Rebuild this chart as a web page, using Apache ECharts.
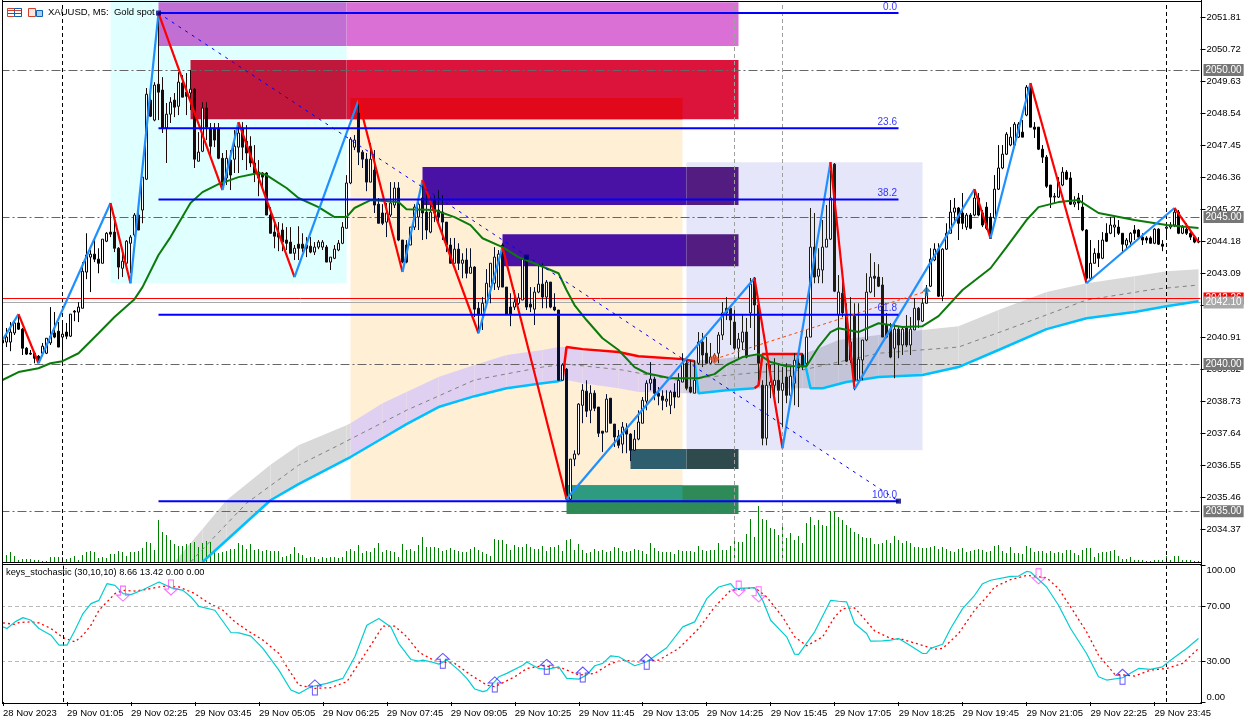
<!DOCTYPE html>
<html>
<head>
<meta charset="utf-8">
<title>XAUUSD M5</title>
<script src="https://cdn.jsdelivr.net/npm/echarts@6/dist/echarts.min.js"></script>
<style>
  html, body { margin: 0; padding: 0; background: #fff; }
  #main { width: 1252px; height: 724px; }
</style>
</head>
<body>
<div id="main"></div>
<script>
/* -------------------------------------------------------------------------- */
/*                                   Data                                     */
/* -------------------------------------------------------------------------- */

const timeLabels = ['28 Nov 2023', '29 Nov 01:05', '29 Nov 02:25', '29 Nov 03:45', '29 Nov 05:05', '29 Nov 06:25',
  '29 Nov 07:45', '29 Nov 09:05', '29 Nov 10:25', '29 Nov 11:45', '29 Nov 13:05', '29 Nov 14:25', '29 Nov 15:45',
  '29 Nov 17:05', '29 Nov 18:25', '29 Nov 19:45', '29 Nov 21:05', '29 Nov 22:25', '29 Nov 23:45'];

const priceTicks = [2051.81, 2050.72, 2049.63, 2048.54, 2047.45, 2046.36, 2045.27, 2044.18, 2043.09, 2042.00,
  2040.91, 2039.82, 2038.73, 2037.64, 2036.55, 2035.46, 2034.37];
const stochTicks = [0, 30, 70, 100];

// open, close, low, high
const candles = [
  [2040.82,2040.72,2040.65,2040.92],[2040.75,2040.92,2040.58,2041.23],[2040.75,2041.09,2040.44,2041.43],[2041.06,2041.40,2040.99,2041.43],
  [2041.40,2041.19,2041.16,2041.67],[2041.19,2040.54,2040.31,2041.23],[2040.54,2040.34,2040.31,2040.58],[2040.37,2040.34,2040.31,2040.48],
  [2040.37,2040.20,2040.03,2040.37],[2040.27,2040.14,2040.03,2040.31],[2040.37,2040.61,2040.34,2040.72],[2040.37,2040.88,2040.34,2040.88],
  [2040.72,2040.95,2040.65,2041.94],[2041.06,2040.92,2040.88,2041.77],[2041.12,2040.58,2040.58,2041.43],[2040.92,2041.02,2040.03,2041.40],
  [2041.09,2040.95,2040.85,2041.40],[2040.95,2041.70,2040.92,2041.70],[2041.80,2041.77,2041.46,2041.84],[2041.77,2041.94,2041.43,2042.11],
  [2041.90,2043.16,2041.90,2043.47],[2043.13,2043.71,2042.89,2044.45],[2043.64,2043.74,2042.45,2043.88],[2043.74,2043.57,2043.47,2044.25],
  [2043.57,2043.43,2043.09,2043.94],[2043.43,2044.25,2043.43,2044.25],[2044.18,2044.45,2044.15,2044.49],[2044.49,2044.42,2044.32,2045.48],
  [2044.49,2043.94,2043.81,2044.97],[2043.94,2043.30,2042.89,2043.98],[2043.26,2043.50,2042.96,2043.77],[2043.43,2044.18,2043.37,2044.22],
  [2044.11,2044.32,2043.09,2044.39],[2044.39,2045.07,2044.32,2045.14],[2045.07,2044.56,2044.56,2045.31],[2045.24,2046.36,2044.79,2046.36],
  [2046.29,2049.18,2046.26,2049.39],[2048.98,2048.43,2048.40,2049.22],[2048.30,2049.49,2048.26,2049.59],[2049.52,2049.25,2048.30,2051.94],
  [2049.32,2048.03,2047.86,2049.76],[2048.03,2048.50,2046.84,2048.88],[2048.50,2048.91,2048.20,2049.08],[2048.98,2048.74,2048.40,2049.22],
  [2048.77,2049.59,2048.47,2049.93],[2049.56,2049.08,2049.08,2049.83],[2049.25,2049.11,2048.47,2049.90],[2049.22,2049.35,2048.64,2050.00],
  [2049.35,2046.97,2046.67,2049.39],[2046.90,2047.21,2046.90,2047.89],[2047.24,2048.71,2047.21,2048.91],[2048.71,2048.06,2047.62,2048.91],
  [2048.03,2047.41,2047.00,2048.20],[2048.03,2047.62,2047.38,2048.20],[2048.03,2047.00,2046.97,2048.20],[2047.00,2046.09,2045.92,2047.18],
  [2046.33,2047.00,2046.09,2047.28],[2046.94,2046.43,2045.92,2047.28],[2046.97,2047.41,2046.50,2047.96],[2047.38,2047.86,2046.50,2048.20],
  [2048.03,2047.38,2046.94,2048.23],[2047.58,2047.18,2046.60,2048.13],[2047.41,2046.84,2046.70,2047.75],[2046.84,2046.50,2046.19,2047.45],
  [2046.53,2046.33,2045.71,2046.94],[2046.50,2046.36,2045.92,2046.53],[2046.50,2045.07,2045.07,2046.53],[2045.07,2044.45,2044.45,2045.34],
  [2044.49,2044.35,2043.94,2044.83],[2044.45,2044.32,2043.84,2044.83],[2044.56,2044.15,2043.84,2044.79],[2044.22,2044.11,2043.88,2044.66],
  [2044.15,2043.77,2043.77,2044.66],[2043.77,2043.94,2043.54,2044.05],[2044.08,2043.94,2043.54,2044.69],[2044.08,2043.94,2043.81,2044.45],
  [2044.05,2043.94,2043.64,2044.32],[2044.01,2043.81,2043.77,2044.32],[2043.81,2043.98,2043.71,2044.15],[2043.98,2044.15,2043.91,2044.22],
  [2043.98,2044.15,2043.88,2044.22],[2043.98,2043.47,2043.47,2044.05],[2043.47,2043.64,2043.20,2043.64],[2043.60,2043.91,2043.57,2044.05],
  [2043.88,2044.11,2043.84,2044.22],[2044.11,2044.66,2044.08,2044.83],[2044.62,2046.16,2044.62,2046.43],[2046.16,2047.65,2046.12,2047.72],
  [2047.38,2047.62,2047.28,2047.79],[2048.54,2047.21,2046.77,2048.98],[2047.21,2046.97,2046.67,2047.28],[2046.97,2046.19,2045.88,2047.18],
  [2046.19,2046.97,2046.19,2047.52],[2046.60,2045.41,2045.14,2047.28],[2045.44,2044.79,2044.79,2045.65],[2045.14,2044.79,2044.73,2045.44],
  [2044.83,2045.14,2044.32,2045.48],[2045.07,2045.48,2045.00,2046.19],[2045.41,2045.99,2045.31,2046.19],[2045.99,2044.22,2044.18,2046.19],
  [2044.22,2043.47,2043.43,2044.22],[2044.05,2043.47,2043.43,2044.22],[2044.05,2044.66,2044.05,2044.66],[2044.66,2045.34,2044.56,2045.44],
  [2045.00,2045.44,2044.56,2045.58],[2045.65,2045.14,2044.22,2046.26],[2045.17,2044.56,2044.25,2045.82],[2044.49,2045.17,2044.45,2045.68],
  [2045.58,2045.14,2044.83,2045.75],[2045.24,2045.00,2044.79,2045.92],[2045.17,2044.83,2044.22,2045.75],[2044.83,2044.05,2043.81,2044.83],
  [2044.05,2043.43,2043.43,2044.29],[2043.43,2043.91,2043.43,2044.29],[2043.91,2043.43,2043.20,2044.11],[2043.43,2043.54,2042.92,2043.77],
  [2043.54,2043.09,2042.92,2043.94],[2043.09,2043.30,2043.09,2043.94],[2043.30,2041.87,2041.60,2043.33],[2041.90,2041.67,2041.05,2042.11],
  [2041.67,2042.07,2041.16,2042.28],[2042.07,2042.75,2042.07,2043.23],[2042.62,2043.43,2042.07,2043.43],[2042.75,2043.64,2042.52,2043.98],
  [2042.62,2043.74,2042.52,2043.88],[2044.05,2042.62,2042.62,2044.11],[2042.62,2041.70,2041.67,2042.62],[2041.94,2041.70,2041.29,2042.41],
  [2041.94,2042.11,2041.84,2042.52],[2042.07,2042.25,2042.01,2042.41],[2042.18,2043.57,2042.18,2043.60],[2043.64,2041.94,2041.84,2043.71],
  [2042.04,2041.94,2041.77,2042.62],[2041.87,2042.45,2041.33,2042.62],[2042.45,2042.72,2042.41,2043.37],[2042.72,2042.28,2041.90,2043.43],
  [2042.28,2042.79,2041.90,2042.86],[2042.79,2041.94,2041.90,2042.79],[2041.94,2041.84,2041.80,2042.41],[2041.84,2039.45,2039.45,2041.84],
  [2039.45,2039.97,2039.45,2040.03],[2039.83,2035.41,2035.41,2039.87],[2035.41,2036.77,2035.37,2036.77],[2036.77,2036.94,2036.53,2037.07],
  [2036.94,2038.64,2036.90,2038.67],[2038.60,2039.11,2037.99,2039.32],[2039.08,2038.40,2038.20,2039.45],[2038.43,2039.01,2037.99,2039.28],
  [2039.01,2038.50,2038.40,2039.11],[2038.54,2037.65,2037.52,2038.54],[2037.72,2037.65,2037.01,2037.72],[2037.69,2038.81,2037.69,2038.98],
  [2038.84,2037.99,2037.99,2038.84],[2037.96,2037.52,2037.18,2037.96],[2037.55,2037.24,2037.14,2037.76],[2037.28,2037.86,2036.97,2038.03],
  [2037.82,2037.62,2036.97,2037.99],[2037.62,2037.07,2036.70,2037.65],[2037.07,2037.45,2037.04,2037.76],[2037.45,2038.03,2037.41,2038.43],
  [2037.99,2038.77,2037.99,2038.88],[2038.74,2039.35,2038.43,2039.45],[2039.35,2039.49,2039.11,2040.07],[2039.49,2039.01,2038.77,2039.56],
  [2039.01,2038.91,2038.60,2039.22],[2038.91,2038.77,2038.43,2039.11],[2038.74,2038.81,2038.54,2039.11],[2038.60,2039.05,2038.30,2039.11],
  [2039.05,2038.88,2038.50,2039.35],[2038.88,2039.45,2038.88,2039.69],[2039.39,2040.03,2039.39,2040.37],[2040.03,2039.18,2039.11,2040.13],
  [2039.22,2039.05,2039.01,2040.13],[2039.01,2039.45,2039.01,2040.13],[2040.03,2040.75,2039.97,2041.09],[2040.75,2040.31,2039.90,2041.06],
  [2040.37,2040.03,2040.03,2040.92],[2040.03,2040.24,2040.00,2040.72],[2040.20,2040.31,2040.07,2040.37],[2040.37,2040.99,2040.03,2041.09],
  [2040.99,2041.74,2040.82,2042.11],[2041.90,2041.74,2041.50,2042.28],[2041.90,2041.50,2040.65,2042.01],[2041.43,2040.54,2040.48,2041.84],
  [2040.54,2040.85,2040.20,2041.06],[2040.75,2041.09,2040.48,2041.67],[2041.09,2040.24,2040.20,2041.57],[2041.74,2042.72,2041.23,2042.93],
  [2042.93,2042.01,2040.48,2042.96],[2042.01,2040.03,2039.45,2042.01],[2039.28,2037.48,2037.24,2039.45],[2037.48,2039.28,2037.24,2040.03],
  [2039.28,2039.39,2038.84,2039.97],[2039.28,2039.45,2038.94,2040.20],[2039.45,2039.11,2038.67,2040.03],[2039.11,2039.35,2037.86,2039.90],
  [2039.56,2038.94,2038.67,2040.03],[2038.94,2039.59,2038.67,2039.90],[2039.35,2040.13,2038.60,2040.37],[2040.03,2039.87,2038.54,2040.20],
  [2040.31,2039.90,2039.80,2040.37],[2040.03,2040.92,2039.97,2041.16],[2040.92,2043.98,2040.92,2045.31],[2043.98,2042.96,2042.75,2045.14],
  [2042.99,2043.23,2042.75,2043.94],[2043.20,2043.98,2042.75,2044.90],[2043.98,2044.25,2043.98,2045.41],[2044.25,2045.65,2044.22,2046.60],
  [2046.80,2042.48,2042.45,2046.84],[2041.67,2042.45,2039.97,2043.03],[2042.41,2041.74,2041.60,2042.96],[2041.67,2040.10,2040.07,2042.07],
  [2040.14,2040.75,2040.03,2042.28],[2041.63,2039.45,2039.11,2042.07],[2039.45,2040.17,2039.42,2042.07],[2040.14,2040.82,2039.45,2040.82],
  [2040.82,2042.45,2040.78,2043.09],[2042.45,2042.96,2042.41,2043.77],[2042.99,2042.92,2042.28,2043.47],[2042.96,2042.65,2042.62,2043.40],
  [2042.69,2040.92,2040.92,2042.96],[2041.33,2040.92,2040.88,2041.74],[2041.19,2040.24,2040.20,2041.40],[2040.54,2041.19,2039.52,2041.36],
  [2041.19,2040.65,2040.20,2041.26],[2040.65,2041.19,2040.31,2041.23],[2041.23,2040.65,2040.58,2041.67],[2040.65,2041.19,2040.31,2041.60],
  [2041.16,2041.90,2041.16,2042.25],[2041.90,2041.50,2041.23,2041.94],[2041.46,2042.07,2041.43,2042.25],[2042.07,2042.41,2042.07,2042.69],
  [2042.65,2043.57,2042.62,2043.94],[2043.54,2043.91,2043.50,2044.11],[2043.91,2042.31,2042.28,2044.11],[2042.31,2043.91,2042.14,2043.94],
  [2043.91,2044.45,2043.88,2044.79],[2044.45,2045.17,2044.45,2045.58],[2045.17,2045.31,2044.83,2045.65],[2045.31,2044.79,2044.22,2045.34],
  [2045.14,2044.79,2044.59,2045.82],[2044.66,2045.07,2044.56,2045.14],[2045.07,2044.62,2044.59,2045.14],[2045.07,2045.65,2045.03,2045.95],
  [2045.65,2045.07,2045.03,2045.82],[2045.14,2044.73,2044.66,2045.24],[2045.34,2044.62,2044.56,2045.51],[2045.00,2044.28,2044.28,2045.14],
  [2044.97,2045.95,2044.93,2046.43],[2045.95,2046.67,2045.92,2047.45],[2046.67,2047.14,2046.63,2047.45],[2047.14,2047.82,2047.11,2047.89],
  [2047.45,2047.72,2047.41,2048.06],[2047.45,2048.16,2047.41,2048.23],[2047.72,2048.16,2047.69,2048.23],[2047.89,2047.72,2047.72,2048.30],
  [2048.47,2049.42,2048.43,2049.49],[2049.42,2048.06,2048.06,2049.49],[2048.06,2047.99,2047.69,2048.23],[2048.06,2047.31,2047.28,2048.06],
  [2047.31,2047.04,2046.84,2047.45],[2047.04,2046.05,2045.99,2047.11],[2046.09,2045.68,2045.31,2046.09],[2045.68,2045.71,2045.48,2045.82],
  [2045.68,2046.19,2045.65,2046.36],[2046.09,2046.53,2046.05,2046.70],[2046.53,2046.29,2046.26,2046.60],[2046.33,2045.44,2045.41,2046.53],
  [2045.44,2045.51,2045.34,2045.71],[2045.65,2045.48,2045.24,2045.82],[2045.34,2044.56,2044.52,2045.75],[2044.56,2042.92,2042.86,2044.59],
  [2042.92,2043.43,2042.89,2044.22],[2043.43,2043.77,2043.43,2043.94],[2043.77,2043.60,2043.30,2044.22],[2043.60,2044.22,2043.57,2044.49],
  [2044.45,2044.18,2044.15,2044.79],[2044.45,2044.73,2044.42,2045.00],[2044.66,2044.73,2044.32,2045.00],[2044.66,2044.45,2044.39,2044.90],
  [2044.45,2044.08,2043.81,2044.45],[2044.05,2044.22,2043.94,2044.29],[2044.15,2044.45,2043.98,2044.49],[2044.56,2044.45,2044.22,2044.73],
  [2044.56,2044.32,2044.29,2044.59],[2044.32,2044.22,2044.05,2044.45],[2044.29,2044.22,2044.11,2044.35],[2044.29,2044.11,2044.11,2044.35],
  [2044.11,2044.59,2044.08,2044.62],[2044.59,2044.08,2044.05,2044.62],[2044.08,2044.01,2043.84,2044.22],[2044.62,2044.66,2044.28,2044.79],
  [2044.66,2044.73,2044.59,2044.83],[2044.73,2045.17,2044.66,2045.31],[2045.17,2044.45,2044.42,2045.24],[2044.45,2044.66,2044.42,2044.73],
  [2044.59,2044.45,2044.39,2044.79],[2044.45,2044.32,2044.22,2044.56],[2044.32,2044.15,2044.11,2044.39],[2044.18,2044.15,2044.11,2044.32]
];

const volumes = [
  10,70,100,60,20,30,30,30,20,20,10,10,50,50,50,50,30,40,60,20,70,100,110,100,40,50,40,80,80,110,100,60,100,100,110,140,200,190,120,420,
  300,270,220,180,160,160,180,190,200,150,190,210,200,120,90,100,110,130,130,190,170,130,180,120,130,110,120,110,110,110,50,60,80,150,90,70,40,50,50,30,
  50,40,50,50,40,50,110,130,110,170,90,110,100,140,190,100,120,110,100,50,180,120,130,110,170,
  250,150,150,150,140,110,120,140,120,110,100,100,130,150,120,100,80,60,230,220,220,180,120,170,150,150,180,150,130,130,160,110,150,150,170,
  110,220,230,120,180,120,90,100,130,110,120,100,110,150,140,110,100,110,130,120,110,80,190,140,110,100,100,100,80,120,110,110,110,100,160,
  120,110,120,120,190,120,120,160,220,200,200,280,430,250,560,430,420,340,330,270,360,240,290,220,260,190,390,450,370,420,370,360,510,510,450,
  420,370,340,300,280,250,240,240,180,180,190,220,190,260,220,190,210,190,150,150,140,140,150,160,130,150,130,110,100,130,
  140,100,110,120,130,120,100,110,160,170,110,90,150,90,90,80,160,140,100,110,110,90,110,90,100,90,120,120,90,70,
  120,140,140,50,90,100,100,110,120,60,30,30,50,20,20,20,10,10,20,20,20,60,20,60,60,20,20,20,10,10
];

// [bar index, price]
const movingAverage = [[0,2039.46],[4,2039.73],[9,2039.86],[12,2040.03],[15,2040.10],[19,2040.37],[24,2041.05],[28,2041.60],[33,2042.21],[35,2042.62],
  [39,2043.71],[42,2044.32],[47,2045.48],[50,2045.85],[54,2046.12],[59,2046.36],[64,2046.50],[66,2046.43],[71,2045.99],[74,2045.65],[79,2045.34],
  [83,2045.00],[86,2045.00],[88,2045.31],[91,2045.51],[92,2045.58],[99,2045.51],[101,2045.27],[108,2045.24],[113,2045.00],[117,2044.73],[120,2044.28],
  [125,2043.98],[129,2043.64],[134,2043.37],[139,2043.09],[141,2042.52],[143,2042.01],[146,2041.50],[150,2040.88],[154,2040.48],[158,2039.90],
  [161,2039.69],[167,2039.52],[174,2039.52],[178,2039.66],[181,2039.97],[185,2040.24],[189,2040.34],[192,2040.07],[196,2039.93],[201,2039.93],
  [204,2040.58],[207,2041.09],[209,2041.22],[214,2041.09],[219,2041.39],[225,2041.26],[230,2041.29],[234,2041.63],[240,2042.52],[247,2043.26],
  [251,2043.98],[256,2044.90],[259,2045.34],[264,2045.51],[269,2045.58],[274,2045.14],[283,2044.90],[291,2044.73],[299,2044.63]];

const zigzag = [[0,2040.82],[4,2041.70],[9,2040.03],[27,2045.48],[32,2042.75],[39,2051.94],[55,2045.92],[59,2048.23],[73,2042.96],[89,2048.98],
  [100,2043.13],[105,2046.26],[119,2041.05],[125,2043.98],[141,2035.41],[188,2042.92],[195,2037.14],[207,2046.87],[213,2039.15],[243,2045.95],
  [247,2044.28],[257,2049.56],[271,2042.75],[293,2045.31],[299,2044.15]];

const cloudIndex = [43,50,56,67,74,86,87,95,101,109,118,126,135,139,141,145,154,159,170,171,174,181,189,200,203,209,219,230,239,249,261,271,283,291,299];
const cloudUpper = [2033.27,2034.39,2035.37,2036.58,2037.24,2037.92,2037.99,2038.67,2039.05,2039.56,2039.97,2040.31,2040.48,2040.58,2040.58,2040.51,2040.41,2040.27,2040.17,2040.17,
  2040.13,2040.20,2040.34,2040.34,2040.48,2040.82,2040.99,2041.16,2041.29,2041.84,2042.45,2042.75,2042.99,2043.16,2043.23];
const cloudLower = [2033.27,2033.27,2034.01,2035.37,2035.92,2036.77,2036.84,2037.48,2037.96,2038.54,2038.91,2039.18,2039.35,2039.42,2039.46,2039.35,2039.18,2039.05,2039.01,2039.01,
  2039.01,2039.11,2039.18,2039.18,2039.18,2039.32,2039.56,2039.63,2039.90,2040.48,2041.19,2041.56,2041.77,2041.97,2042.14];
const cloudMiddle = [[47,2033.27],[61,2035.27],[74,2036.56],[84,2037.24],[101,2038.43],[118,2039.46],[135,2039.90],[141,2040.00],[155,2039.80],[168,2039.46],
  [190,2039.73],[200,2039.80],[219,2040.37],[239,2040.58],[252,2041.22],[271,2042.18],[288,2042.55],[299,2042.69]];

const supportA = [[50,2033.27],[56,2034.01],[67,2035.37],[74,2035.92],[86,2036.77],[87,2036.84],[95,2037.48],[101,2037.96],[109,2038.54],[118,2038.91],[126,2039.18],[135,2039.35],[139,2039.42],[140,2039.46]];
const resistanceA = [[140,2039.46],[141,2040.58],[145,2040.51],[154,2040.41],[159,2040.27],[170,2040.17],[173,2040.10]];
const supportB = [[173,2040.10],[174,2039.01],[181,2039.11],[188,2039.18]];
const resistanceB = [[188,2039.18],[189,2039.28],[190,2040.34],[200,2040.34]];
const supportC = [[200,2040.34],[201,2039.80],[202,2039.18],[205,2039.18],[211,2039.39],[219,2039.56],[230,2039.63],[239,2039.90],[249,2040.48],[261,2041.19],[271,2041.56],[283,2041.77],[291,2041.97],[299,2042.14]];

const stochMain = [[0,55.1],[1,53.9],[3,58.8],[5,61.9],[7,60],[9,53.9],[12,49],[14,41.7],[16,41.7],[18,52.7],[20,64.9],[22,72.2],[24,74.6],[26,86.8],[28,85.6],[30,79.5],[32,78.8],[35,82.4],[39,88],[42,83.9],[45,81.9],[47,77.1],[49,70.2],[53,67.3],[57,51],[59,50.7],[62,48.3],[65,39.3],[69,23.4],[72,8.8],[74,6.3],[77,11.2],[81,13.7],[85,17.3],[88,33.2],[91,56.3],[94,61.2],[97,55.1],[99,42.9],[102,31.2],[104,30],
  [105,30.7],[107,29.5],[109,27.8],[111,30.7],[114,23.4],[116,17.3],[118,9.5],[120,7.6],[121,8.3],[124,18.5],[126,21],[130,27],[131,29.3],[134,24.6],[136,23.9],[139,25.8],[141,17.3],[144,16.8],[146,19.8],[148,26.6],[150,28.3],[152,33.9],[154,33.2],[158,26.6],[161,29.5],[166,39.8],[170,55.1],[173,58.8],[176,75.8],[179,84.4],[182,86.8],[183,83.2],[188,83.9],[190,74.6],[192,60],[196,47.8],[198,35.1],[199,34.9],[203,51.5],[207,74.6],[209,73.9],
  [211,73.4],[213,57.6],[216,50.2],[217,44.6],[220,44.9],[222,45.4],[224,46.6],[227,41.2],[230,35.6],[231,35.6],[232,39.3],[235,42.4],[237,53.9],[240,68.5],[243,78.3],[245,86.8],[247,89.3],[252,92.2],[254,92.4],[256,95.8],[257,95.4],[261,84.4],[264,71],[267,53.9],[271,35.6],[274,18.5],[276,16.1],[280,17.8],[284,24.6],[287,23.9],[290,25.8],[292,30.7],[296,39.3],[299,46.6]];

const stochSignal = [[0,58],[3,57],[4,58.3],[7,58.8],[9,58],[12,53.9],[15,47.3],[18,44.1],[20,49],[22,56.3],[24,67.3],[28,79.5],[30,81.9],[33,81.4],[36,82.7],[40,84.9],[44,84.4],[48,79.5],[51,73.4],[55,67.3],[58,58.8],[61,52.7],[65,45.4],[69,35.6],[71,25.8],[74,12.4],[78,10],[82,10.5],[86,14.9],[89,28.3],[92,41.7],[95,55.6],[98,55.6],[101,47.8],[104,36.8],
  [105,34.9],[108,30.2],[113,28.3],[117,19.8],[121,12.4],[123,11.2],[128,18.5],[131,24.6],[135,26.6],[140,24.6],[144,19.8],[148,21],[152,28.3],[155,30.7],[159,29.5],[164,30.7],[169,39.3],[174,53.9],[178,69.8],[182,82],[188,83.9],[191,77.1],[195,62.4],[198,47.8],[201,41.2],[205,47.8],
  [208,62.4],[210,68.5],[213,69],[215,62.4],[218,52.2],[222,46.6],[225,45.9],[229,42.4],[233,38.8],[235,39.3],[239,50.2],[243,67.3],[246,77],[248,84.4],[252,89.8],[256,92.9],[261,91.2],[264,83.2],[267,69.8],[271,51.5],[274,34.4],[278,20.5],[283,19],[287,23.4],[291,24.6],[295,28.3],[299,39.3]];

const sellSignals = [[30,79.5],[42,84],[184,83.2],[189,79],[259,92.2]];
const buySignals = [[78,10.7],[110,30.2],[123,12.9],[136,25.8],[145,20.2],[161,29.5],[280,18.5]];

// fibonacci retracement
const fibFrom = 39, fibTo = 224;
const fibNames = ['0.0', '23.6', '38.2', '61.8', '100.0'];
const fibPrices = [2051.94, 2048.02, 2045.60, 2041.68, 2035.34];
const fibHandles = [[39,2051.94],[131,2043.64],[224,2035.34]];
const entryLine = [[178,2040.17],[231,2042.48]];

const roundLevels = [2050, 2045, 2040, 2035];
const bidPrice = 2042.23, lastPrice = 2042.10;

// price zones: from bar, to bar, top, bottom, colour. Later rows paint over earlier ones
const zoneFrom   = [27, 87, 171, 39, 86, 47, 86, 87, 105, 171, 125, 171, 157, 171, 141, 141];
const zoneTo     = [86, 170, 230, 86, 184, 86, 184, 170, 171, 184, 171, 184, 171, 184, 184, 170];
const zoneTop    = [2052.38, 2049.08, 2046.87, 2052.31, 2052.31, 2050.34, 2050.34, 2049.05, 2046.70, 2046.70, 2044.42, 2044.42, 2037.11, 2037.11, 2035.88, 2035.88];
const zoneBottom = [2042.75, 2035.37, 2037.07, 2050.82, 2050.82, 2048.33, 2048.33, 2048.33, 2045.41, 2045.41, 2043.33, 2043.33, 2036.43, 2036.43, 2034.90, 2035.37];
const zoneColor  = ['#e0ffff', '#ffefd5', '#e6e6fa', '#c16fd3', '#da70d6', '#c0183c', '#dc143c', '#e0081a', '#4a12a4', '#521c80', '#4a12a4', '#521c80', '#2e5e6e', '#2f4a4c', '#2e8b57', '#2e9b80'];

/* -------------------------------------------------------------------------- */
/*                                   Chart                                    */
/* -------------------------------------------------------------------------- */

const FONT = 'Liberation Sans';
const categories = candles.map((c, i) => (i % 16 === 0 ? timeLabels[i / 16] : String(i)));

const darkColor = i => {
  if (i >= 27 && i <= 86) return '#200808';
  if (i >= 87 && i <= 170) return '#04102e';
  if (i >= 171 && i <= 230) return '#1c1c10';
  return '#000000';
};

const cloudColor = i => {
  if (i >= 87 && i < 170) return '#dfd0f2';
  if (i >= 171 && i < 230) return '#c4c4d8';
  return '#d9d9d9';
};

const lineSeries = (points, color, width, extra) => Object.assign({
  type: 'line',
  data: points,
  showSymbol: false,
  symbol: 'none',
  silent: true,
  z: 8,
  lineStyle: { color: color, width: width }
}, extra);

const series = [];

// zones
series.push({
  type: 'custom',
  silent: true,
  z: 1,
  data: zoneFrom.map((from, i) => [from, zoneTo[i], zoneTop[i], zoneBottom[i], zoneColor[i]]),
  encode: { x: [0, 1], y: [2, 3] },
  renderItem: (params, api) => {
    const a = api.coord([api.value(0), api.value(2)]);
    const b = api.coord([api.value(1), api.value(3)]);
    return {
      type: 'rect',
      shape: { x: a[0], y: a[1], width: b[0] - a[0], height: b[1] - a[1] },
      style: { fill: zoneColor[params.dataIndex] }
    };
  }
});

// cloud
series.push({
  type: 'custom',
  silent: true,
  z: 2,
  data: cloudIndex.slice(1).map((idx, k) => [cloudIndex[k], idx, cloudUpper[k], cloudLower[k], cloudUpper[k + 1], cloudLower[k + 1]]),
  encode: { x: [0, 1], y: [2, 3] },
  renderItem: (params, api) => {
    const i0 = api.value(0), i1 = api.value(1);
    return {
      type: 'polygon',
      shape: { points: [
        api.coord([i0, api.value(2)]), api.coord([i1, api.value(4)]),
        api.coord([i1, api.value(5)]), api.coord([i0, api.value(3)])
      ] },
      style: { fill: cloudColor(i0) }
    };
  }
});

// volume
series.push({
  type: 'bar',
  yAxisIndex: 1,
  data: volumes,
  barWidth: 1,
  silent: true,
  z: 3,
  itemStyle: { color: '#008000' }
});

// round levels
series.push({
  type: 'line',
  data: [],
  z: 4,
  markLine: {
    silent: true,
    symbol: 'none',
    animation: false,
    lineStyle: { color: '#666', width: 1, type: [9, 3, 2, 3] },
    label: { position: 'end', distance: 3, color: '#fff', fontFamily: FONT, fontSize: 10, padding: [1, 2], backgroundColor: '#777' },
    data: roundLevels.map(v => ({ yAxis: v, label: { formatter: v.toFixed(2) } })).concat([
      { xAxis: 15, lineStyle: { color: '#000', type: [4, 3] }, label: { show: false } },
      { xAxis: 291, lineStyle: { color: '#000', type: [4, 3] }, label: { show: false } },
      { xAxis: 183, lineStyle: { color: '#a0a0a0', type: [4, 3] }, label: { show: false } },
      { xAxis: 195, lineStyle: { color: '#a0a0a0', type: [4, 3] }, label: { show: false } }
    ])
  }
});

// bid and last lines, above the candles
series.push({
  type: 'line',
  data: [],
  z: 7,
  markLine: {
    silent: true,
    symbol: 'none',
    animation: false,
    label: { position: 'end', distance: 3, color: '#fff', fontFamily: FONT, fontSize: 10, padding: [1, 2] },
    data: [
      { yAxis: bidPrice, lineStyle: { color: '#ff0000', width: 1, type: 'solid' }, label: { formatter: '2042.26', backgroundColor: '#ff0000' } },
      { yAxis: lastPrice, lineStyle: { color: '#a9a9a9', width: 1, type: 'solid' }, label: { formatter: lastPrice.toFixed(2), backgroundColor: '#a9a9a9' } }
    ]
  }
});

// cloud middle and band lines
series.push(lineSeries(cloudMiddle, '#808080', 1, { z: 4, lineStyle: { color: '#808080', width: 1, type: [4, 4] } }));
[supportA, supportB, supportC].forEach(points => series.push(lineSeries(points, '#00bfff', 2.5, { z: 5 })));
[resistanceA, resistanceB].forEach(points => series.push(lineSeries(points, '#ff0000', 2.5, { z: 5 })));

// candles, per-item colours have to give the fill for the candle's own direction
series.push({
  type: 'candlestick',
  barWidth: 2,
  silent: true,
  z: 6,
  data: candles.map((c, i) => {
    const fill = c[1] >= c[0] ? '#ffffff' : darkColor(i);
    return {
      value: c,
      itemStyle: {
        color: fill,
        color0: fill,
        borderColor: darkColor(i),
        borderColor0: darkColor(i),
        borderWidth: 1
      }
    };
  })
});

// moving average
series.push(lineSeries(movingAverage, '#0a7a0a', 2, { z: 7 }));

// zigzag legs
zigzag.slice(1).forEach((p, k) => {
  const prev = zigzag[k];
  series.push(lineSeries([prev, p], p[1] > prev[1] ? '#1e90ff' : '#ff0000', 2.2, { z: 8 }));
});

// fibonacci
fibPrices.forEach(p => {
  series.push(lineSeries([[fibFrom, p], [fibTo, p]], '#0000ff', 2, { z: 9 }));
});
series.push(lineSeries([[fibFrom, fibPrices[0]], [fibTo, fibPrices[4]]], '#0000ff', 1, { z: 9, lineStyle: { color: '#0000ff', width: 1, type: [3, 5] } }));
series.push({
  type: 'scatter',
  silent: true,
  z: 10,
  symbolSize: 1,
  itemStyle: { color: 'transparent' },
  data: fibPrices.map((p, i) => ({ value: [fibTo, p], name: fibNames[i] })),
  label: {
    show: true,
    position: 'left',
    offset: [4, -6],
    formatter: '{b}',
    color: '#0000ff',
    fontFamily: FONT,
    fontSize: 10
  }
});
series.push({
  type: 'scatter',
  silent: true,
  z: 10,
  symbol: 'rect',
  symbolSize: 5,
  itemStyle: { color: '#000080' },
  data: fibHandles
});

// entry markers
series.push(lineSeries(entryLine, '#ff4500', 1, { z: 9, lineStyle: { color: '#ff4500', width: 1, type: [3, 3] } }));
series.push({
  type: 'scatter',
  silent: true,
  z: 10,
  symbol: 'diamond',
  symbolSize: 10,
  itemStyle: { color: '#e0502a' },
  data: [entryLine[0]]
});
series.push({
  type: 'scatter',
  silent: true,
  z: 10,
  symbol: 'path://M4,0 L8,5 L5.5,5 L5.5,9 L2.5,9 L2.5,5 L0,5 Z',
  symbolSize: [9, 10],
  itemStyle: { color: '#1070b0' },
  data: [entryLine[1]]
});

// stochastic pane
const stochPane = { xAxisIndex: 1, yAxisIndex: 2 };
series.push(Object.assign({
  type: 'line',
  data: [],
  z: 2,
  markLine: {
    silent: true,
    symbol: 'none',
    animation: false,
    label: { show: false },
    lineStyle: { color: '#b8b8b8', width: 1, type: [4, 3] },
    data: [
      { yAxis: 30 }, { yAxis: 70 },
      { xAxis: 15, lineStyle: { color: '#000', type: [4, 3] } },
      { xAxis: 291, lineStyle: { color: '#000', type: [4, 3] } }
    ]
  }
}, stochPane));
series.push(lineSeries(stochSignal, '#ff0000', 1, Object.assign({ z: 4, lineStyle: { color: '#ff0000', width: 1.3, type: [2, 3] } }, stochPane)));
series.push(lineSeries(stochMain, '#00ced1', 1.2, Object.assign({ z: 5 }, stochPane)));
series.push(Object.assign({
  type: 'scatter',
  silent: true,
  z: 6,
  symbol: 'path://M4,0 H9 V9 H13 L6.5,15 L0,9 H4 Z',
  symbolSize: [13, 15],
  itemStyle: { color: 'transparent', borderColor: '#ff40ff', borderWidth: 1 },
  data: sellSignals
}, stochPane));
series.push(Object.assign({
  type: 'scatter',
  silent: true,
  z: 6,
  symbol: 'path://M6.5,0 L13,6 H9 V15 H4 V6 H0 Z',
  symbolSize: [13, 15],
  itemStyle: { color: 'transparent', borderColor: '#3a20ff', borderWidth: 1 },
  data: buySignals
}, stochPane));

const icon = (x, y, w, h, color, fill) => ({
  type: 'rect',
  z: 100,
  shape: { x: x + 0.5, y: y + 0.5, width: w, height: h },
  style: { fill: fill || '#fff', stroke: color, lineWidth: 1 }
});
const frameLine = (x1, y1, x2, y2) => ({
  type: 'line',
  z: 100,
  shape: { x1: x1, y1: y1, x2: x2, y2: y2 },
  style: { stroke: '#000', lineWidth: 1 }
});

const option = {
  animation: false,
  backgroundColor: '#ffffff',
  grid: [
    { left: 0.5, width: 1200, top: 1, height: 561 },
    { left: 0.5, width: 1200, top: 565.7, height: 136.3 }
  ],
  xAxis: [
    { type: 'category', gridIndex: 0, data: categories, show: false },
    {
      type: 'category',
      gridIndex: 1,
      data: categories,
      axisLine: { show: false },
      axisTick: { show: true, alignWithLabel: true, interval: 15, length: 4, lineStyle: { color: '#000' } },
      axisLabel: {
        interval: 15,
        align: 'left',
        margin: 6,
        color: '#000',
        fontFamily: FONT,
        fontSize: 9.5,
        hideOverlap: false
      }
    }
  ],
  yAxis: [
    {
      type: 'value',
      gridIndex: 0,
      position: 'right',
      min: 2033.27,
      max: 2052.35,
      splitLine: { show: false },
      axisLine: { show: false },
      axisTick: { show: true, length: 5, customValues: priceTicks, lineStyle: { color: '#000' } },
      axisLabel: {
        customValues: priceTicks,
        margin: 6,
        color: '#000',
        fontFamily: FONT,
        fontSize: 9.5,
        formatter: v => v.toFixed(2)
      }
    },
    { type: 'value', gridIndex: 0, min: 0, max: 5610, show: false },
    {
      type: 'value',
      gridIndex: 1,
      position: 'right',
      min: 0,
      max: 100,
      splitLine: { show: false },
      axisLine: { show: false },
      axisTick: { show: true, length: 5, customValues: stochTicks, lineStyle: { color: '#000' } },
      axisLabel: {
        customValues: stochTicks,
        margin: 6,
        color: '#000',
        fontFamily: FONT,
        fontSize: 9.5,
        verticalAlignMinLabel: 'bottom',
        verticalAlignMaxLabel: 'top',
        formatter: v => v.toFixed(2)
      }
    }
  ],
  graphic: [
    { type: 'rect', z: 99, shape: { x: 0, y: 0, width: 2, height: 704 }, style: { fill: '#fff' } },
    frameLine(2.5, 0, 2.5, 704),
    frameLine(1201.5, 0, 1201.5, 704),
    frameLine(2, 1.5, 1202, 1.5),
    frameLine(2, 562.5, 1202, 562.5),
    frameLine(2, 564.5, 1202, 564.5),
    frameLine(2, 703.5, 1202, 703.5),
    icon(7, 8, 14, 8, '#d04030'),
    icon(14, 8, 7, 8, '#1060b0'),
    { type: 'line', z: 101, shape: { x1: 8, y1: 10.5, x2: 21, y2: 10.5 }, style: { stroke: '#d04030' } },
    { type: 'line', z: 101, shape: { x1: 8, y1: 13.5, x2: 21, y2: 13.5 }, style: { stroke: '#1060b0' } },
    icon(28, 8, 7, 8, '#d04030', '#f8e8e0'),
    icon(36, 10, 6, 6, '#1060b0', '#a8d0f0'),
    {
      type: 'text',
      z: 102,
      x: 48,
      y: 7,
      style: { text: 'XAUUSD, M5:  Gold spot', fill: '#000', font: '9.5px "Liberation Sans"' }
    },
    {
      type: 'text',
      z: 102,
      x: 6,
      y: 568,
      style: { text: 'keys_stochastic (30,10,10) 8.66 13.42 0.00 0.00', fill: '#000', font: '9.3px "Liberation Sans"' }
    }
  ],
  series: series
};

const chart = echarts.init(document.getElementById('main'));
chart.setOption(option);
</script>
</body>
</html>
